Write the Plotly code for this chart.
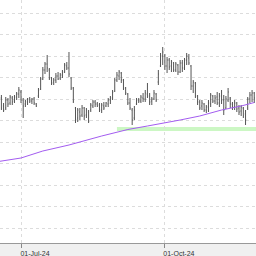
import pandas as pd
import plotly.graph_objects as go

# Business-day dates of the bars (Jun 18 2024 .. Nov 27 2024)
dates = pd.bdate_range("2024-06-18", periods=117)

open_ = [102, 94, 92, 100, 97, 102, 99, 103, 106, 108,
         100, 96, 98, 101, 99, 101, 96, 104, 111, 121,
         130, 136, 130, 122, 118, 120, 124, 122, 125, 128,
         134, 132, 122, 112, 92, 82, 88, 85, 92, 85,
         88, 90, 94, 98, 96, 95, 90, 94, 94, 96,
         100, 102, 109, 120, 124, 127, 120, 112, 106, 97,
         90, 82, 96, 100, 99, 102, 101, 106, 104, 99,
         101, 106, 118, 134, 144, 144, 134, 140, 134, 137,
         130, 135, 128, 137, 132, 140, 142, 134, 114, 117,
         104, 98, 94, 96, 90, 93, 96, 104, 99, 103,
         97, 104, 100, 92, 100, 102, 96, 93, 97, 92,
         89, 92, 86, 92, 101, 105, 107]
high = [105, 97, 103, 102, 105, 104, 105, 108, 113, 110,
        102, 100, 102, 103, 102, 103, 97, 112, 123, 133,
        138, 145, 132, 123, 122, 127, 128, 127, 130, 137,
        138, 148, 123, 113, 93, 92, 92, 95, 93, 92,
        90, 97, 100, 100, 98, 97, 97, 98, 98, 102,
        104, 110, 122, 128, 130, 128, 121, 113, 107, 102,
        92, 94, 102, 102, 105, 107, 110, 117, 107, 103,
        110, 107, 130, 147, 153, 146, 143, 142, 140, 138,
        138, 136, 140, 140, 142, 147, 146, 135, 120, 118,
        105, 100, 100, 97, 95, 100, 107, 105, 105, 108,
        107, 110, 105, 104, 112, 103, 98, 100, 98, 95,
        95, 93, 90, 103, 108, 110, 108]
low = [90, 88, 90, 93, 95, 95, 97, 100, 102, 97,
       82, 93, 95, 97, 96, 95, 93, 102, 110, 120,
       126, 128, 120, 115, 115, 117, 120, 120, 122, 127,
       130, 123, 110, 97, 77, 78, 80, 83, 80, 82,
       77, 88, 92, 93, 93, 88, 87, 90, 93, 93,
       96, 100, 108, 118, 120, 117, 110, 105, 95, 90,
       75, 80, 95, 97, 97, 98, 98, 102, 95, 95,
       100, 98, 115, 133, 135, 130, 127, 130, 128, 128,
       128, 125, 127, 128, 130, 135, 135, 110, 107, 102,
       95, 90, 90, 88, 87, 88, 93, 97, 96, 95,
       93, 96, 85, 91, 98, 92, 90, 90, 88, 85,
       84, 82, 75, 90, 97, 98, 97]
close = [92, 90, 100, 96, 103, 98, 103, 106, 110, 100,
         94, 99, 101, 99, 101, 97, 94, 110, 121, 130,
         136, 132, 122, 117, 120, 124, 121, 125, 128, 135,
         132, 126, 112, 99, 80, 90, 84, 92, 84, 90,
         79, 95, 98, 96, 94, 90, 95, 92, 97, 100,
         102, 108, 120, 125, 128, 120, 112, 107, 97, 92,
         80, 90, 100, 99, 103, 101, 107, 104, 98, 101,
         107, 100, 126, 144, 148, 134, 140, 133, 138, 130,
         136, 128, 137, 132, 140, 144, 137, 114, 118, 104,
         98, 92, 97, 90, 93, 97, 105, 99, 102, 97,
         104, 100, 90, 101, 108, 96, 93, 97, 91, 88,
         93, 84, 80, 101, 105, 107, 102]

# Moving average line
ma_dates = ["2024-06-17", "2024-06-18", "2024-07-01", "2024-07-15", "2024-07-31",
            "2024-08-21", "2024-09-06", "2024-09-19", "2024-10-01", "2024-10-10",
            "2024-10-23", "2024-11-06", "2024-11-19", "2024-11-27"]
ma_vals = [38.6, 39, 42, 49, 55, 64, 70.5, 74, 77, 80, 84, 90, 94, 97.5]

# Support zone
zone_start = "2024-08-30"
zone_end = "2025-01-31"
zone_low, zone_high = 69, 73

tick_vals = ["2024-07-01", "2024-10-01"]
tick_text = ["01-Jul-24", "01-Oct-24"]

fig = go.Figure()
fig.add_shape(type="rect", xref="x", yref="y", x0=zone_start, x1=zone_end,
              y0=zone_low, y1=zone_high, fillcolor="#ccf7c4", line_width=0,
              layer="below")
fig.add_trace(go.Ohlc(x=dates, open=open_, high=high, low=low, close=close,
                      increasing=dict(line=dict(color="#555555", width=1)),
                      decreasing=dict(line=dict(color="#555555", width=1)),
                      tickwidth=0.3, showlegend=False, hoverinfo="skip"))
fig.add_trace(go.Scatter(x=ma_dates, y=ma_vals, mode="lines",
                         line=dict(color="#a35cf0", width=1),
                         showlegend=False, hoverinfo="skip"))

fig.update_layout(
    width=256, height=256,
    margin=dict(l=0, r=0, t=0, b=13),
    paper_bgcolor="#f0f0f0", plot_bgcolor="#ffffff",
    font=dict(family="Liberation Sans, Arial, sans-serif", size=7, color="#333333"),
    showlegend=False,
)
fig.update_xaxes(
    type="date",
    rangebreaks=[dict(bounds=["sat", "mon"])],
    range=["2024-06-17 08:38", "2024-11-27 19:12"],
    rangeslider=dict(visible=False),
    tickvals=tick_vals, ticktext=tick_text,
    ticks="outside", ticklen=4, tickcolor="#888888", tickwidth=1,
    ticklabelshift=14,
    showgrid=True, gridcolor="#dcdcdc", griddash="dot", gridwidth=1,
    showline=True, linecolor="#999999", linewidth=1,
    zeroline=False,
)
fig.update_yaxes(
    range=[-43, 200],
    tick0=-28, dtick=21.5,
    showticklabels=False, ticks="",
    showgrid=True, gridcolor="#dcdcdc", griddash="dot", gridwidth=1,
    zeroline=False, showline=False,
)

fig.write_html("out.html")
